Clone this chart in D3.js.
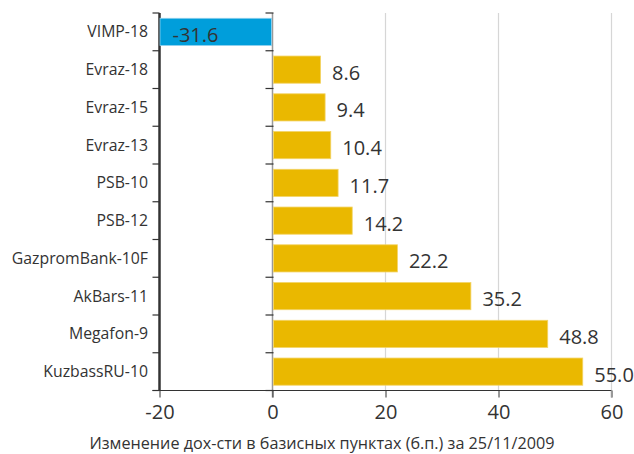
<!DOCTYPE html>
<html>
<head>
<meta charset="utf-8">
<script src="https://cdn.jsdelivr.net/npm/d3@7"></script>
<style>
  body { margin: 0; background: #fff; }
  text { font-family: "Open Sans", "Noto Sans", sans-serif; fill: #333; }
</style>
</head>
<body>
<div id="chart"></div>
<script>
// bonds and yield change in basis points
var categories = ["VIMP-18", "Evraz-18", "Evraz-15", "Evraz-13", "PSB-10", "PSB-12",
                  "GazpromBank-10F", "AkBars-11", "Megafon-9", "KuzbassRU-10"];
var values = [-31.6, 8.6, 9.4, 10.4, 11.7, 14.2, 22.2, 35.2, 48.8, 55.0];
var xTicks = [-20, 0, 20, 40, 60];
var axisTitle = "Изменение дох-сти в базисных пунктах (б.п.) за 25/11/2009";

var width = 634, height = 454;
var plot = { left: 159.5, right: 611.5, top: 13, bottom: 390.5 };

// plain hyphen instead of unicode minus
var fmtValue = function(v) { return d3.format(".1f")(v).replace("\u2212", "-"); };
var fmtTick = function(v) { return d3.format("d")(v).replace("\u2212", "-"); };

var svg = d3.select("#chart").append("svg")
  .attr("width", width)
  .attr("height", height);

var x = d3.scaleLinear().domain([-20, 60]).range([plot.left, plot.right]);
var y = d3.scaleBand().domain(categories).range([plot.top, plot.bottom])
  .paddingInner(0.28).paddingOuter(0.14);

var data = categories.map(function(c, i) { return { name: c, value: values[i] }; });

// gridlines
svg.append("g")
  .selectAll("line")
  .data(xTicks.filter(function(t) { return t > 0; }))
  .join("line")
  .attr("x1", function(d) { return x(d); })
  .attr("x2", function(d) { return x(d); })
  .attr("y1", plot.top)
  .attr("y2", plot.bottom)
  .attr("stroke", "#d6d6d6")
  .attr("stroke-width", 1.2);

// row boundaries for category ticks
var step = y.step();
var boundaries = d3.range(categories.length + 1).map(function(i) { return plot.top + i * step; });

// left axis (at -20)
svg.append("line")
  .attr("x1", x(-20)).attr("x2", x(-20))
  .attr("y1", plot.top).attr("y2", plot.bottom)
  .attr("stroke", "#333").attr("stroke-width", 2.5);
svg.append("g").selectAll("line").data(boundaries).join("line")
  .attr("x1", x(-20) - 7).attr("x2", x(-20))
  .attr("y1", function(d) { return d; }).attr("y2", function(d) { return d; })
  .attr("stroke", "#333").attr("stroke-width", 1.2);

// zero axis
svg.append("line")
  .attr("x1", x(0)).attr("x2", x(0))
  .attr("y1", plot.top).attr("y2", plot.bottom + 7)
  .attr("stroke", "#999").attr("stroke-width", 1.5);
svg.append("g").selectAll("line").data(boundaries).join("line")
  .attr("x1", x(0) - 7).attr("x2", x(0) + 1)
  .attr("y1", function(d) { return d; }).attr("y2", function(d) { return d; })
  .attr("stroke", "#333").attr("stroke-width", 1.2);

// bars (clipped to the axis range)
svg.append("g")
  .selectAll("rect")
  .data(data)
  .join("rect")
  .attr("x", function(d) { return x(Math.max(-20, Math.min(0, d.value))) + (d.value < 0 ? 0.5 : 1); })
  .attr("y", function(d) { return y(d.name); })
  .attr("width", function(d) { return Math.abs(x(Math.max(-20, d.value)) - x(0)) - 1.5; })
  .attr("height", y.bandwidth())
  .attr("fill", function(d) { return d.value < 0 ? "#009edb" : "#eab800"; })
  .attr("stroke", function(d) { return d.value < 0 ? "#8fd0ee" : "#f3d466"; })
  .attr("stroke-width", 0.8);

// value labels
svg.append("g")
  .selectAll("text")
  .data(data)
  .join("text")
  .attr("x", function(d) { return d.value < 0 ? x(-20) + 13 : x(d.value) + 11; })
  .attr("y", function(d) { return y(d.name) + y.bandwidth() / 2 + 3; })
  .attr("dy", "0.35em")
  .style("font-size", "20px")
  .text(function(d) { return fmtValue(d.value); });

// category labels
svg.append("g")
  .selectAll("text")
  .data(categories)
  .join("text")
  .attr("x", 148)
  .attr("y", function(d) { return y(d) + y.bandwidth() / 2; })
  .attr("dy", "0.35em")
  .attr("text-anchor", "end")
  .style("font-size", "15.8px")
  .text(function(d) { return d; });

// x axis
var xAxis = svg.append("g")
  .attr("transform", "translate(0," + plot.bottom + ")")
  .call(d3.axisBottom(x).tickValues(xTicks).tickSize(7).tickFormat(fmtTick));
xAxis.select(".domain").remove();
xAxis.selectAll(".tick line").attr("stroke", "#333");
xAxis.selectAll(".tick text")
  .attr("y", 14)
  .style("font-size", "20px")
  .style("font-family", "'Open Sans', sans-serif")
  .attr("fill", "#333");
svg.append("line")
  .attr("x1", x(-20) - 7).attr("x2", plot.right)
  .attr("y1", plot.bottom).attr("y2", plot.bottom)
  .attr("stroke", "#333").attr("stroke-width", 1.2);

// right edge tick
svg.append("line")
  .attr("x1", plot.right).attr("x2", plot.right)
  .attr("y1", plot.bottom).attr("y2", plot.bottom + 7)
  .attr("stroke", "#999").attr("stroke-width", 1.5);

// axis title
svg.append("text")
  .attr("x", 322)
  .attr("y", 443)
  .attr("dy", "0.35em")
  .attr("text-anchor", "middle")
  .style("font-size", "16.2px")
  .text(axisTitle);
</script>
</body>
</html>
